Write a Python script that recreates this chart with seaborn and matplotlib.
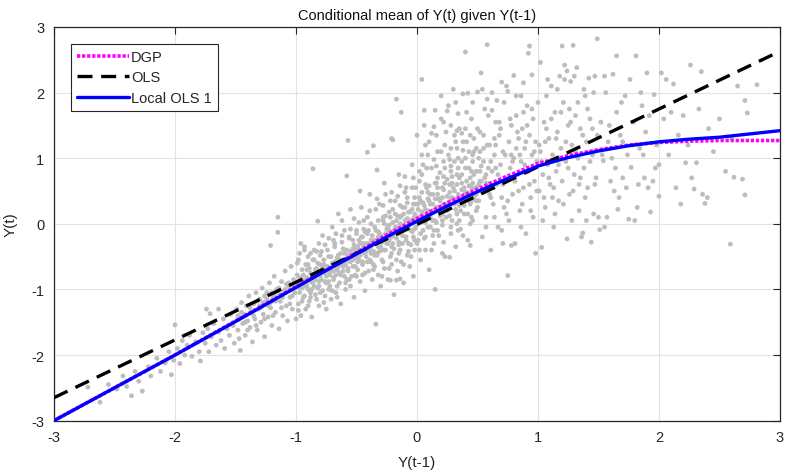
import matplotlib
matplotlib.use("Agg")
import matplotlib.pyplot as plt
import seaborn as sns
import pandas as pd

# ---------------- data ----------------
curve_x = [-3, -2.5, -2, -1.5, -1, -0.75, -0.5, -0.25, 0, 0.25, 0.5, 0.75, 1,
           1.25, 1.5, 1.75, 2, 2.25, 2.5, 2.75, 3]
dgp_y = [-3, -2.5, -2, -1.48, -0.96, -0.70, -0.44, -0.17, 0.08, 0.32, 0.53, 0.73, 0.92,
         1.04, 1.13, 1.20, 1.24, 1.26, 1.27, 1.27, 1.27]
local_y = [-3, -2.5, -2, -1.49, -0.97, -0.71, -0.46, -0.20, 0.04, 0.27, 0.49, 0.69, 0.88,
           1.01, 1.11, 1.19, 1.25, 1.29, 1.32, 1.37, 1.42]
ols_x = [-3, 3]
ols_y = [-2.65, 2.63]

tail_pts = [(-2.72, -2.49), (-2.62, -2.72), (-2.55, -2.45), (-2.48, -2.52), (-2.43, -2.32),
            (-2.40, -2.48), (-2.36, -2.62), (-2.33, -2.25), (-2.30, -2.40), (-2.27, -2.55),
            (-2.22, -2.18), (-2.20, -2.32), (-2.15, -2.05), (-2.12, -2.25), (-2.08, -2.12),
            (-2.05, -1.95), (-2.03, -2.30), (-2.01, -2.08), (-2.00, -1.54)]
g2_pts = [(-1.98, -1.90), (-1.96, -2.13), (-1.94, -1.78), (-1.92, -2.00), (-1.90, -1.85),
          (-1.88, -1.70), (-1.86, -2.02), (-1.83, -1.80), (-1.80, -1.95), (-1.79, -2.09),
          (-1.77, -1.66), (-1.75, -1.82), (-1.73, -1.60), (-1.72, -1.95), (-1.70, -1.72),
          (-1.68, -1.52), (-1.66, -1.85), (-1.64, -1.65), (-1.62, -1.78), (-1.60, -1.45),
          (-1.59, -1.90), (-1.57, -1.60), (-1.55, -1.70), (-1.54, -1.38), (-1.52, -1.55),
          (-1.51, -1.82), (-1.74, -1.30), (-1.71, -1.37), (-1.64, -1.30)]
g3_pts = [(-1.49, -1.30), (-1.48, -1.62), (-1.47, -1.45), (-1.46, -1.93), (-1.45, -1.20),
          (-1.44, -1.52), (-1.43, -1.38), (-1.42, -1.70), (-1.41, -1.25), (-1.40, -1.48),
          (-1.39, -1.10), (-1.38, -1.58), (-1.37, -1.35), (-1.36, -1.80), (-1.35, -1.22),
          (-1.34, -1.45), (-1.33, -1.05), (-1.32, -1.62), (-1.31, -1.30), (-1.30, -1.15),
          (-1.29, -1.50), (-1.28, -0.98), (-1.27, -1.38), (-1.26, -1.72), (-1.25, -1.20),
          (-1.24, -1.05), (-1.23, -1.42), (-1.22, -0.90), (-1.21, -0.33), (-1.21, -1.28),
          (-1.20, -1.55), (-1.19, -1.12), (-1.18, -0.80), (-1.17, -1.35), (-1.16, -1.00),
          (-1.15, 0.10), (-1.15, -0.13), (-1.14, -1.60), (-1.13, -1.18), (-1.12, -0.88),
          (-1.11, -1.40), (-1.10, -1.02), (-1.09, -0.72), (-1.08, -1.25), (-1.07, -1.48),
          (-1.06, -0.95), (-1.05, -1.12), (-1.04, -0.65), (-1.03, -1.30), (-1.02, -0.85),
          (-1.01, -1.05), (-1.00, -1.45)]
g4_pts = [(-0.99, -0.78), (-0.98, -1.22), (-0.98, -0.55), (-0.97, -1.05), (-0.96, -0.88),
          (-0.96, -1.40), (-0.95, -0.70), (-0.94, -1.12), (-0.93, -0.95), (-0.93, -0.40),
          (-0.92, -1.30), (-0.91, -0.82), (-0.90, -1.00), (-0.90, -0.62), (-0.89, -1.18),
          (-0.88, -0.75), (-0.87, -1.42), (-0.86, 0.84), (-0.86, -0.90), (-0.85, -0.55),
          (-0.84, -1.08), (-0.83, -0.68), (-0.82, 0.04), (-0.82, -0.98), (-0.81, -1.25),
          (-0.80, -0.80), (-0.79, -0.42), (-0.78, -1.02), (-0.77, -0.62), (-0.76, -0.88),
          (-0.75, -1.30), (-0.74, -0.72), (-0.73, -0.50), (-0.72, -0.95), (-0.71, -1.15),
          (-0.70, -0.60), (-0.69, -0.82), (-0.68, -0.30), (-0.67, -1.05), (-0.66, -0.70),
          (-0.65, 0.15), (-0.65, -0.48), (-0.64, -0.90), (-0.63, -1.22), (-0.62, -0.62),
          (-0.61, -0.38), (-0.60, -0.80), (-0.59, -1.00), (-0.58, 0.73), (-0.58, -0.55),
          (-0.57, 1.27), (-0.57, -0.72), (-0.56, -0.20), (-0.55, -0.95), (-0.54, -0.45),
          (-0.53, -0.65), (-0.52, -1.12), (-0.52, -0.32), (-0.51, -0.78), (-0.50, -0.52),
          (-0.99, -0.60), (-0.95, -0.98), (-0.91, -0.70), (-0.88, -1.05), (-0.84, -0.85),
          (-0.80, -0.62), (-0.76, -1.10), (-0.72, -0.78), (-0.68, -0.58), (-0.64, -0.75),
          (-0.60, -0.45), (-0.56, -0.85), (-0.53, -0.25), (-0.97, -0.45), (-0.93, -0.35),
          (-0.85, -0.40), (-0.78, -0.18), (-0.70, -0.05), (-0.62, 0.05), (-0.55, 0.22)]
g5_pts = [(-0.50, -0.10), (-0.49, -0.70), (-0.49, -0.35), (-0.48, -0.55), (-0.47, 0.50),
          (-0.47, -0.88), (-0.46, -0.20), (-0.46, -0.45), (-0.45, -0.62), (-0.44, 0.05),
          (-0.44, -0.30), (-0.43, -1.02), (-0.42, -0.50), (-0.41, 1.09), (-0.41, -0.15),
          (-0.40, -0.72), (-0.40, -0.38), (-0.39, 0.20), (-0.38, -0.58), (-0.38, -0.25),
          (-0.37, -0.85), (-0.36, 1.19), (-0.36, -0.42), (-0.35, -0.05), (-0.35, -0.65),
          (-0.34, -1.53), (-0.34, -0.30), (-0.33, 0.82), (-0.33, -0.48), (-0.32, -0.12),
          (-0.32, -0.78), (-0.31, 0.30), (-0.30, -0.35), (-0.30, -0.95), (-0.29, -0.55),
          (-0.28, 0.10), (-0.28, -0.22), (-0.27, -0.68), (-0.26, -0.40), (-0.26, 0.45),
          (-0.25, -0.08), (-0.24, -0.85), (-0.24, -0.30), (-0.23, 0.18), (-0.22, -0.50),
          (-0.22, -0.15), (-0.21, 1.30), (-0.21, -0.62), (-0.20, 0.02), (-0.19, -0.38),
          (-0.19, -1.08), (-0.18, 0.35), (-0.17, 1.90), (-0.17, -0.22), (-0.16, -0.72),
          (-0.16, 0.12), (-0.15, -0.45), (-0.14, 0.58), (-0.14, -0.10), (-0.13, 1.70),
          (-0.13, -0.58), (-0.12, 0.25), (-0.12, -0.30), (-0.11, -0.90), (-0.10, 0.05),
          (-0.10, 0.72), (-0.09, -0.20), (-0.08, -0.48), (-0.08, 0.40), (-0.07, -0.05),
          (-0.06, -0.65), (-0.06, 0.18), (-0.05, -0.32), (-0.04, 0.90), (-0.04, -0.12),
          (-0.03, 0.30), (-0.03, -0.80), (-0.02, -0.40), (-0.01, 0.10), (-0.01, 0.55),
          (-0.48, -0.25), (-0.43, -0.12), (-0.37, -0.18), (-0.31, -0.42), (-0.27, 0.00),
          (-0.23, -0.25), (-0.18, -0.05), (-0.15, -0.28), (-0.11, 0.15), (-0.07, -0.30),
          (-0.02, -0.08), (-0.20, 1.28), (-0.17, -0.86), (-0.22, -0.86), (-0.14, -0.84)]
g6_pts = [(0.00, 1.35), (0.01, -0.25), (0.02, 0.40), (0.03, -0.55), (0.03, 0.05),
          (0.04, 2.20), (0.04, 0.75), (0.05, -0.10), (0.06, 1.73), (0.06, 0.28),
          (0.07, -0.40), (0.08, 0.55), (0.08, 0.12), (0.09, 1.05), (0.10, -0.70),
          (0.10, 0.35), (0.11, -0.05), (0.12, 0.85), (0.12, 1.38), (0.13, 0.20),
          (0.14, 1.48), (0.14, -0.30), (0.15, -1.00), (0.15, 0.62), (0.16, 0.02),
          (0.17, 1.10), (0.17, 0.45), (0.18, -0.18), (0.19, 0.78), (0.20, 1.60),
          (0.20, 0.25), (0.21, -0.45), (0.22, 0.95), (0.22, 0.52), (0.23, -0.50),
          (0.24, 0.10), (0.24, 1.40), (0.25, 0.68), (0.26, 1.80), (0.26, 0.32),
          (0.27, -0.51), (0.28, 1.15), (0.28, 0.88), (0.29, 0.05), (0.30, 2.05),
          (0.30, 0.55), (0.31, 1.35), (0.32, -0.35), (0.32, 0.22), (0.33, 0.75),
          (0.34, 1.00), (0.35, 1.45), (0.35, 0.40), (0.36, -0.08), (0.37, 0.62),
          (0.38, 1.25), (0.38, 1.98), (0.39, 0.15), (0.40, 2.62), (0.40, 0.85),
          (0.41, 0.48), (0.42, 1.99), (0.42, -0.25), (0.43, 1.10), (0.44, 0.30),
          (0.44, 0.70), (0.45, 1.60), (0.46, 0.05), (0.46, 0.95), (0.47, 1.30),
          (0.48, 0.55), (0.44, -0.33), (0.49, 0.80), (0.50, 2.01), (0.50, 0.25),
          (0.05, 0.90), (0.09, 0.48), (0.13, -0.18), (0.18, 0.38), (0.23, 1.20),
          (0.27, 0.60), (0.31, 0.95), (0.36, 0.20), (0.41, 1.70), (0.45, 0.10),
          (0.49, 1.15), (0.02, 0.65), (0.07, 1.20), (0.11, 0.30), (0.16, 0.88),
          (0.21, 0.15), (0.29, 0.40), (0.34, -0.10), (0.39, 0.55), (0.43, 0.85),
          (0.47, 0.40), (0.15, 1.73), (0.25, 1.72), (0.33, 1.42), (0.37, 1.38)]
g7_pts = [(0.51, 0.35), (0.52, 1.40), (0.53, 2.30), (0.53, 0.65), (0.54, -0.20),
          (0.55, 0.95), (0.56, 1.75), (0.57, 0.10), (0.58, 2.73), (0.58, 1.90),
          (0.59, 0.55), (0.60, 1.20), (0.61, -0.40), (0.62, 1.73), (0.62, 0.80),
          (0.63, 0.30), (0.64, 1.05), (0.65, 1.55), (0.66, 0.60), (0.67, -0.05),
          (0.68, 1.35), (0.69, 0.90), (0.70, 2.16), (0.70, 0.40), (0.71, 1.10),
          (0.72, 1.85), (0.73, 0.70), (0.74, 0.15), (0.75, 2.02), (0.75, -0.79),
          (0.76, 1.25), (0.77, 0.85), (0.78, 1.50), (0.79, 0.45), (0.80, 2.26),
          (0.80, 1.00), (0.81, -0.30), (0.82, 1.65), (0.83, 0.75), (0.84, 1.30),
          (0.85, 0.20), (0.86, 1.95), (0.86, 0.95), (0.87, 1.45), (0.88, 0.55),
          (0.89, 1.15), (0.90, -0.15), (0.91, 1.80), (0.92, 2.60), (0.92, 0.80),
          (0.93, 2.71), (0.93, 1.35), (0.94, 0.40), (0.95, 2.27), (0.95, 1.05),
          (0.96, 1.60), (0.97, 0.65), (0.98, 1.25), (0.98, -0.45), (0.99, 0.95),
          (1.00, 1.85), (0.55, 1.15), (0.60, 0.45), (0.65, 0.85), (0.72, 0.25),
          (0.78, 1.05), (0.84, 0.50), (0.90, 1.25), (0.96, 0.10), (0.52, 0.80),
          (0.68, 1.55), (0.82, 1.15), (0.88, 1.70), (0.78, -0.33), (0.71, -0.30)]
g8_pts = [(1.01, 0.50), (1.02, 2.46), (1.02, 1.10), (1.03, -0.36), (1.04, 0.75),
          (1.05, 1.55), (1.06, 0.25), (1.07, 1.95), (1.08, 0.90), (1.09, 1.30),
          (1.10, 0.60), (1.11, 2.10), (1.12, 1.05), (1.13, -0.05), (1.14, 1.70),
          (1.15, 0.80), (1.16, 1.40), (1.17, 0.35), (1.18, 2.25), (1.19, 1.15),
          (1.20, 2.71), (1.20, 0.65), (1.21, 1.85), (1.22, 2.20), (1.23, 0.95),
          (1.24, -0.23), (1.24, 2.33), (1.25, 1.50), (1.26, 0.45), (1.27, 2.17),
          (1.28, 1.20), (1.29, 2.72), (1.30, 0.75), (1.31, 1.65), (1.32, 2.38),
          (1.33, 1.00), (1.34, 0.20), (1.35, 1.45), (1.36, -0.20), (1.37, -0.14),
          (1.38, 0.85), (1.39, 1.95), (1.40, 1.25), (1.41, 0.55), (1.42, 2.22),
          (1.43, 1.60), (1.44, -0.28), (1.45, 1.05), (1.46, 0.15), (1.47, 2.25),
          (1.48, 0.70), (1.49, 2.82), (1.49, 1.35), (1.50, 0.10), (1.06, 1.25),
          (1.12, 0.40), (1.18, 1.00), (1.26, 1.75), (1.34, 0.60)]
g9_pts = [(1.51, -0.09), (1.52, 1.55), (1.54, 0.96), (1.55, -0.05), (1.56, 2.00),
          (1.58, 1.25), (1.60, 0.65), (1.62, 2.28), (1.63, 0.50), (1.65, 2.56),
          (1.65, 1.70), (1.67, 0.40), (1.68, 1.35), (1.70, 0.70), (1.72, 1.95),
          (1.74, 1.05), (1.75, 0.07), (1.77, 0.86), (1.79, 1.55), (1.81, 2.56),
          (1.82, 0.25), (1.84, 1.15), (1.86, 1.80), (1.88, 0.70), (1.89, 1.40),
          (1.91, 0.55), (1.93, 0.18), (1.95, 0.65), (1.96, 1.97), (1.98, 1.20),
          (1.57, 0.10), (1.61, 1.00), (1.70, 1.25), (1.85, 2.00)]
g10_pts = [(2.00, 0.90), (2.00, 0.42), (2.02, 2.30), (2.04, 1.60), (2.06, 2.20),
           (2.08, 1.05), (2.10, 1.70), (2.12, 2.13), (2.14, 0.55), (2.16, 1.35),
           (2.18, 0.30), (2.20, 1.65), (2.22, 0.93), (2.24, 1.20), (2.26, 2.42),
           (2.27, 0.70), (2.29, 0.53), (2.31, 0.93), (2.33, 1.75), (2.35, 2.32),
           (2.36, 0.45), (2.38, 0.31), (2.40, 0.40), (2.41, 1.45), (2.45, 1.10),
           (2.50, 1.60), (2.55, 0.80), (2.59, -0.31), (2.62, 0.71), (2.65, 2.10),
           (2.69, 0.68), (2.71, 1.88), (2.71, 0.44), (2.73, 1.69), (2.81, 2.12),
           (2.60, 1.30)]
core_pts = [(-0.95, -0.92), (-0.90, -0.85), (-0.85, -0.80), (-0.80, -0.72), (-0.76, -0.75),
            (-0.72, -0.68), (-0.68, -0.64), (-0.64, -0.58), (-0.60, -0.55), (-0.57, -0.48),
            (-0.54, -0.50), (-0.50, -0.42), (-0.47, -0.40), (-0.44, -0.36), (-0.41, -0.30),
            (-0.38, -0.35), (-0.35, -0.25), (-0.32, -0.20), (-0.29, -0.28), (-0.26, -0.15),
            (-0.23, -0.10), (-0.20, -0.18), (-0.17, -0.05), (-0.14, 0.00), (-0.11, -0.02),
            (-0.08, 0.08), (-0.05, 0.02), (-0.02, 0.15), (0.01, 0.05), (0.04, 0.18),
            (0.07, 0.22), (0.10, 0.15), (0.13, 0.30), (0.16, 0.25), (0.19, 0.35),
            (0.22, 0.30), (0.25, 0.42), (0.28, 0.38), (0.31, 0.50), (0.34, 0.45),
            (0.37, 0.52), (0.40, 0.48), (0.43, 0.58), (0.46, 0.62), (0.49, 0.55),
            (0.52, 0.65), (0.56, 0.70), (0.60, 0.62),
            (-0.93, -1.10), (-0.87, -1.00), (-0.81, -0.95), (-0.75, -0.90), (-0.69, -0.85),
            (-0.63, -0.78), (-0.57, -0.68), (-0.51, -0.65), (-0.45, -0.58), (-0.39, -0.55),
            (-0.33, -0.45), (-0.27, -0.40), (-0.21, -0.35), (-0.15, -0.32), (-0.09, -0.25),
            (-0.03, -0.20), (0.03, -0.15), (0.09, -0.05), (0.15, 0.05), (0.21, -0.02),
            (0.27, 0.12), (0.33, 0.15), (0.39, 0.28), (0.45, 0.35),
            (-0.92, -0.62), (-0.86, -0.55), (-0.80, -0.48), (-0.74, -0.40), (-0.68, -0.35),
            (-0.62, -0.28), (-0.56, -0.22), (-0.50, -0.15), (-0.44, -0.08), (-0.38, 0.00),
            (-0.32, 0.05), (-0.26, 0.12), (-0.20, 0.22), (-0.14, 0.28), (-0.08, 0.32),
            (-0.02, 0.40), (0.04, 0.48), (0.10, 0.58), (0.16, 0.62), (0.22, 0.72),
            (0.28, 0.80), (0.34, 0.85), (0.40, 1.00), (0.46, 1.05), (0.52, 1.10),
            (0.58, 1.20), (0.64, 1.30)]
extra_neg_pts = [(-1.48, -1.40), (-1.45, -1.35), (-1.42, -1.50), (-1.38, -1.28), (-1.35, -1.40),
                 (-1.32, -1.18), (-1.29, -1.28), (-1.26, -1.10), (-1.23, -1.25), (-1.20, -1.05),
                 (-1.17, -1.18), (-1.14, -0.98), (-1.11, -1.12), (-1.08, -0.92), (-1.05, -1.00),
                 (-1.02, -0.95), (-1.47, -1.75), (-1.40, -1.62), (-1.33, -1.55), (-1.26, -1.45),
                 (-1.19, -1.40), (-1.12, -1.28), (-1.05, -1.22),
                 (-0.99, -0.95), (-0.97, -0.82), (-0.94, -0.78), (-0.92, -0.90), (-0.89, -0.68),
                 (-0.87, -0.82), (-0.84, -0.70), (-0.82, -0.60), (-0.79, -0.85), (-0.77, -0.55),
                 (-0.74, -0.65), (-0.71, -0.50), (-0.69, -0.72), (-0.66, -0.52), (-0.63, -0.45),
                 (-0.61, -0.65), (-0.58, -0.40), (-0.55, -0.58), (-0.53, -0.38), (-0.51, -0.48),
                 (-0.98, -1.32), (-0.90, -1.25), (-0.83, -1.15), (-0.77, -1.20), (-0.70, -1.02),
                 (-0.66, -1.12), (-0.59, -0.90), (-0.54, -0.80), (-0.96, -0.30), (-0.88, -0.45),
                 (-0.81, -0.30), (-0.73, -0.22), (-0.67, -0.15), (-0.60, -0.10), (-0.52, 0.08),
                 (-0.49, -0.48), (-0.47, -0.30), (-0.45, -0.20), (-0.42, -0.42), (-0.40, -0.10),
                 (-0.38, -0.45), (-0.36, -0.28), (-0.34, -0.10), (-0.32, -0.35), (-0.30, -0.18),
                 (-0.28, 0.05), (-0.26, -0.25), (-0.24, -0.05), (-0.22, 0.10), (-0.20, -0.30),
                 (-0.18, 0.15), (-0.16, -0.12), (-0.14, 0.10), (-0.12, -0.18), (-0.10, 0.25),
                 (-0.08, -0.08), (-0.06, 0.05), (-0.04, 0.22), (-0.02, -0.25), (-0.01, 0.30),
                 (-0.46, 0.25), (-0.39, 0.45), (-0.33, 0.38), (-0.27, 0.62), (-0.21, 0.48),
                 (-0.15, 0.75), (-0.09, 0.55), (-0.03, 0.70), (-0.45, -0.78), (-0.36, -0.70),
                 (-0.29, -0.80), (-0.23, -0.68), (-0.17, -0.55), (-0.11, -0.62), (-0.05, -0.50)]
extra_pos_pts = [(0.01, 0.22), (0.03, 0.35), (0.05, 0.10), (0.07, 0.60), (0.09, 0.20),
                 (0.11, 0.45), (0.13, 0.05), (0.15, 0.38), (0.17, 0.70), (0.19, 0.12),
                 (0.21, 0.55), (0.23, 0.85), (0.25, 0.20), (0.27, 0.98), (0.29, 0.62),
                 (0.31, 0.30), (0.33, 1.15), (0.35, 0.70), (0.37, 0.95), (0.39, 0.38),
                 (0.41, 1.25), (0.43, 0.45), (0.45, 0.80), (0.47, 1.10), (0.49, 0.35),
                 (0.02, -0.40), (0.06, -0.22), (0.12, -0.40), (0.17, -0.10), (0.22, -0.28),
                 (0.28, -0.15), (0.33, 0.00), (0.38, -0.18), (0.44, 0.00), (0.04, 1.05),
                 (0.10, 1.25), (0.16, 1.35), (0.22, 1.55), (0.28, 1.50), (0.34, 1.68),
                 (0.40, 1.45), (0.46, 1.85), (0.06, 1.50), (0.20, 1.95), (0.32, 1.85),
                 (0.51, 1.00), (0.53, 0.50), (0.55, 1.35), (0.57, 0.75), (0.59, 1.65),
                 (0.61, 0.95), (0.63, 0.55), (0.65, 1.20), (0.67, 0.75), (0.69, 1.45),
                 (0.71, 0.60), (0.73, 1.05), (0.75, 0.35), (0.77, 1.60), (0.79, 0.95),
                 (0.81, 0.65), (0.83, 1.40), (0.85, 1.05), (0.87, 0.30), (0.89, 0.90),
                 (0.91, 1.50), (0.93, 0.60), (0.95, 1.75), (0.97, 1.10), (0.99, 0.50),
                 (0.54, 2.05), (0.62, 2.00), (0.66, 1.88), (0.74, 2.10), (0.82, 1.95),
                 (0.88, 2.15), (0.57, -0.05), (0.64, 0.10), (0.70, -0.10), (0.76, 0.05),
                 (0.86, -0.05), (0.94, 0.20),
                 (1.01, 1.20), (1.03, 0.95), (1.05, 0.40), (1.07, 1.45), (1.09, 0.70),
                 (1.11, 1.60), (1.13, 0.55), (1.15, 1.30), (1.17, 0.90), (1.19, 1.70),
                 (1.21, 0.30), (1.23, 1.25), (1.25, 0.85), (1.27, 1.55), (1.29, 0.50),
                 (1.31, 1.10), (1.33, 1.85), (1.35, 0.70), (1.37, 1.35), (1.39, 0.40),
                 (1.41, 1.75), (1.43, 0.95), (1.45, 1.45), (1.47, 0.60), (1.08, 2.20),
                 (1.16, 2.05), (1.22, 2.42), (1.30, 2.25), (1.38, 2.05), (1.46, 2.00),
                 (1.04, 0.05), (1.14, 0.15), (1.28, 0.05), (1.40, 0.05),
                 (1.53, 1.05), (1.59, 1.50), (1.64, 0.85), (1.69, 1.85), (1.73, 0.55),
                 (1.78, 1.20), (1.83, 0.60), (1.87, 1.05), (1.92, 1.65), (1.97, 0.85),
                 (1.55, 2.25), (1.76, 2.20), (1.90, 2.30), (1.66, 0.22), (1.80, 0.05)]
core2_pts = [(-1.30, -1.25), (-1.27, -1.20), (-1.24, -1.15), (-1.21, -1.20), (-1.18, -1.10),
             (-1.15, -1.05), (-1.12, -1.08), (-1.09, -1.00), (-1.06, -0.90), (-1.03, -1.10),
             (-1.00, -0.88), (-0.97, -0.98), (-0.94, -0.85), (-0.91, -0.95), (-0.88, -0.88),
             (-0.85, -0.95), (-0.83, -0.78), (-0.81, -0.88), (-0.78, -0.66), (-0.75, -0.80),
             (-0.73, -0.88), (-0.71, -0.72), (-0.69, -0.60), (-0.67, -0.78), (-0.65, -0.65),
             (-0.63, -0.55), (-0.61, -0.72), (-0.59, -0.62), (-0.57, -0.55), (-0.55, -0.42),
             (-0.53, -0.55), (-0.51, -0.35), (-0.49, -0.58), (-0.47, -0.48), (-0.45, -0.30),
             (-0.43, -0.45), (-0.41, -0.58), (-0.39, -0.40), (-0.37, -0.30), (-0.35, -0.48),
             (-0.33, -0.28), (-0.31, -0.15), (-0.29, -0.40), (-0.27, -0.22), (-0.25, -0.30),
             (-0.23, -0.02), (-0.21, -0.20), (-0.19, -0.10), (-0.17, 0.05), (-0.15, -0.15),
             (-0.13, 0.12), (-0.11, -0.10), (-0.09, 0.05), (-0.07, 0.18), (-0.05, -0.10),
             (-0.03, 0.08), (-0.01, -0.05), (0.01, 0.30), (0.03, 0.12), (0.05, 0.32),
             (0.07, 0.02), (0.09, 0.38), (0.11, 0.10), (0.13, 0.45), (0.15, 0.20),
             (0.17, 0.55), (0.19, 0.25), (0.21, 0.40), (0.23, 0.62), (0.25, 0.28),
             (0.27, 0.48), (0.29, 0.72), (0.31, 0.38), (0.33, 0.60), (0.35, 0.28),
             (0.37, 0.75), (0.39, 0.45), (0.41, 0.65), (0.43, 0.35), (0.45, 0.55),
             (0.47, 0.75), (0.49, 0.45), (0.51, 0.60), (0.53, 0.88), (0.55, 0.50),
             (0.57, 0.62), (0.59, 0.85), (0.61, 0.40),
             (-0.95, -1.18), (-0.88, -1.12), (-0.80, -1.05), (-0.73, -1.00), (-0.66, -0.95),
             (-0.58, -0.85), (-0.50, -0.80), (-0.43, -0.75), (-0.36, -0.62), (-0.28, -0.58),
             (-0.21, -0.45), (-0.14, -0.40), (-0.07, -0.42), (0.00, -0.30), (0.07, -0.20),
             (0.14, -0.10), (0.21, 0.05), (0.28, -0.05), (0.35, 0.05), (0.42, 0.15),
             (0.49, 0.20),
             (-0.90, -0.50), (-0.83, -0.42), (-0.76, -0.32), (-0.69, -0.25), (-0.62, -0.18),
             (-0.55, -0.08), (-0.48, 0.02), (-0.41, 0.10), (-0.34, 0.22), (-0.28, 0.28),
             (-0.22, 0.35), (-0.16, 0.42), (-0.10, 0.48), (-0.04, 0.55), (0.02, 0.80),
             (0.08, 0.85), (0.14, 0.98), (0.20, 1.10), (0.26, 1.05), (0.32, 1.25),
             (0.38, 1.12), (0.44, 1.35), (0.50, 1.45)]

scatter_pts = (tail_pts + g2_pts + g3_pts + g4_pts + g5_pts + g6_pts + g7_pts
               + g8_pts + g9_pts + g10_pts + core_pts + extra_neg_pts + extra_pos_pts
               + core2_pts)
scatter_x = [p[0] for p in scatter_pts]
scatter_y = [p[1] for p in scatter_pts]

tick_vals = [-3, -2, -1, 0, 1, 2, 3]
tick_labels = ["-3", "-2", "-1", "0", "1", "2", "3"]

# ---------------- style ----------------
sns.set_theme(style="white")
plt.rcParams["font.family"] = ["Liberation Sans", "DejaVu Sans"]
plt.rcParams["axes.unicode_minus"] = False

fig = plt.figure(figsize=(7.85, 4.77), dpi=100)
ax = fig.add_axes([0.0688, 0.1161, 0.9248, 0.8252])

df_sc = pd.DataFrame({"x": scatter_x, "y": scatter_y})
sns.scatterplot(data=df_sc, x="x", y="y", ax=ax, color="#bdbdbd", s=12,
                edgecolor="none", linewidth=0, zorder=2, legend=False)

df_dgp = pd.DataFrame({"x": curve_x, "y": dgp_y})
df_ols = pd.DataFrame({"x": ols_x, "y": ols_y})
df_loc = pd.DataFrame({"x": curve_x, "y": local_y})

sns.lineplot(data=df_dgp, x="x", y="y", ax=ax, color="#ff00ff", lw=2.6,
             linestyle=(0, (0.9, 0.5)), label="DGP", zorder=3, sort=False)
sns.lineplot(data=df_ols, x="x", y="y", ax=ax, color="black", lw=2.4,
             linestyle=(0, (4.5, 2.6)), label="OLS", zorder=4, sort=False)
sns.lineplot(data=df_loc, x="x", y="y", ax=ax, color="#0000ff", lw=2.4,
             label="Local OLS 1", zorder=5, sort=False)

ax.set_xlim(-3, 3)
ax.set_ylim(-3, 3)
ax.set_xticks(tick_vals)
ax.set_xticklabels(tick_labels)
ax.set_yticks(tick_vals)
ax.set_yticklabels(tick_labels)
ax.grid(True, color="#e3e3e3", lw=0.8, zorder=0)
ax.set_axisbelow(True)
for sp in ax.spines.values():
    sp.set_visible(True)
    sp.set_color("#262626")
    sp.set_linewidth(0.9)
ax.tick_params(direction="in", length=5, width=0.8, color="#262626",
               labelsize=10.5, labelcolor="#262626", top=True, right=True,
               pad=7)

ax.set_title("Conditional mean of Y(t) given Y(t-1)", fontsize=10.5,
             color="#111111", pad=6)
ax.set_xlabel("Y(t-1)", fontsize=11, color="#262626", labelpad=8)
ax.set_ylabel("Y(t)", fontsize=11, color="#262626", labelpad=10)

leg = ax.legend(loc="upper left", bbox_to_anchor=(0.023, 0.957),
                borderaxespad=0, fontsize=10.5, handlelength=3.6,
                handletextpad=0.15, borderpad=0.4, labelspacing=0.45,
                fancybox=False, framealpha=1, edgecolor="#262626")
leg.get_frame().set_linewidth(0.8)

fig.savefig("out.png", dpi=100)
